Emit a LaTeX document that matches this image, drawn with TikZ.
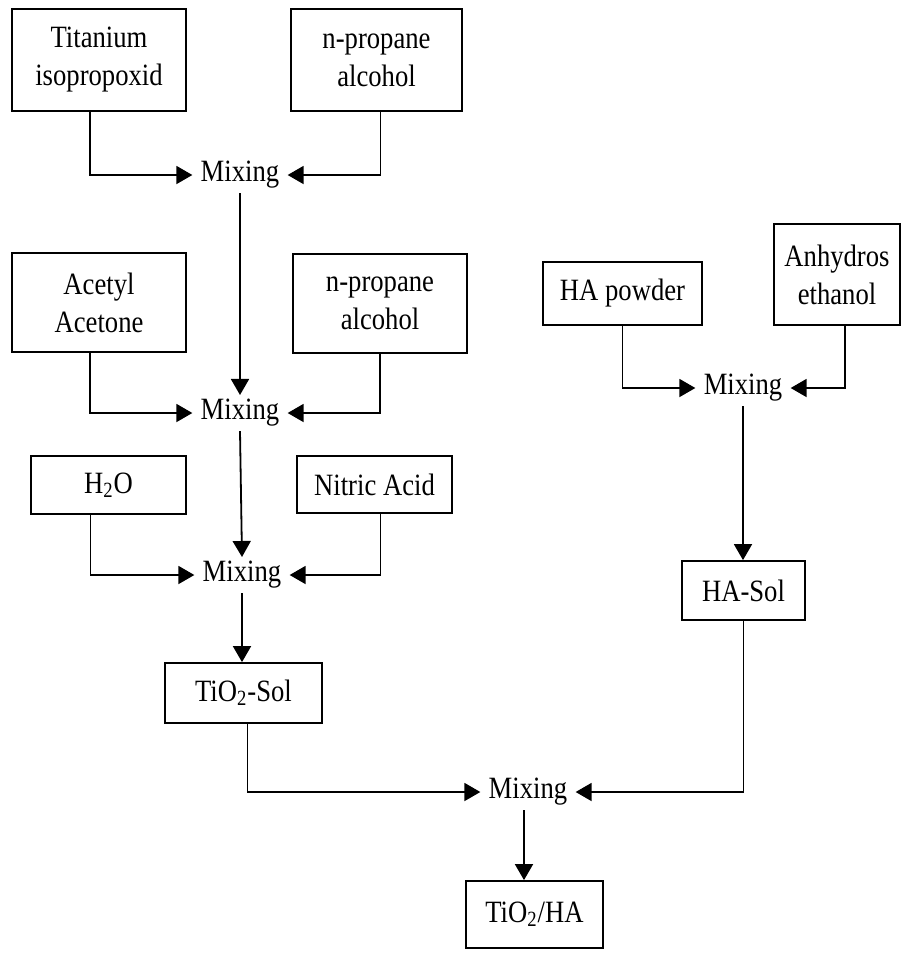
\documentclass[tikz,border=0pt]{standalone}
\usepackage{fontspec}
\setmainfont[FakeStretch=0.86]{Liberation Serif}
\usetikzlibrary{arrows.meta}

\begin{document}
\begin{tikzpicture}[x=0.5pt,y=-0.5pt,
		box/.style={draw=black,line width=0.9pt,align=center,inner sep=0pt,font=\fontsize{15.5}{19}\selectfont},
		mix/.style={inner xsep=4pt,inner ysep=2pt,font=\fontsize{15.5}{19}\selectfont},
		feed/.style={draw=black,line width=0.9pt,-{Triangle[length=8pt,width=9pt]}}]
		\useasboundingbox (0,0) rectangle (902,954);
		% titanium branch
		\node [box,minimum width=87pt,minimum height=51pt] (tip) at (99,60) {Titanium\\isopropoxid};
		\node [box,minimum width=85.5pt,minimum height=51pt] (npa1) at (376.5,60) {n-propane\\alcohol};
		\node [mix] (mix1) at (240,175) {Mixing};
		\node [box,minimum width=87pt,minimum height=49.5pt] (acac) at (99,302.5) {Acetyl\\Acetone};
		\node [box,minimum width=87pt,minimum height=49.5pt] (npa2) at (380,303.5) {n-propane\\alcohol};
		\node [mix] (mix2) at (240,413) {Mixing};
		\node [box,minimum width=77.5pt,minimum height=29pt] (water) at (108.5,485) {H\textsubscript{2}O};
		\node [box,minimum width=77.5pt,minimum height=28.5pt] (nitric) at (374.5,484.5) {Nitric Acid};
		\node [mix] (mix3) at (242,575) {Mixing};
		\node [box,minimum width=78.5pt,minimum height=30pt] (tisol) at (243.5,693) {TiO\textsubscript{2}-Sol};
		% HA branch
		\node [box,minimum width=79.5pt,minimum height=31.5pt] (hapow) at (622.5,293.5) {HA powder};
		\node [box,minimum width=63pt,minimum height=50.5pt] (ethanol) at (837,274.5) {Anhydros\\ethanol};
		\node [mix] (mix4) at (743,388) {Mixing};
		\node [box,minimum width=61.5pt,minimum height=29.5pt] (hasol) at (743.5,590.5) {HA-Sol};
		% final
		\node [mix] (mix5) at (528,792) {Mixing};
		\node [box,minimum width=68.5pt,minimum height=33.5pt] (tiha) at (534.5,914.5) {TiO\textsubscript{2}/HA};

		\draw [feed] ([xshift=-4.5pt]tip.south) |- (mix1.west);
		\draw [feed] ([xshift=2pt]npa1.south) |- (mix1.east);
		\draw [feed] (mix1.south) -- (mix2.north);
		\draw [feed] ([xshift=-4.5pt]acac.south) |- (mix2.west);
		\draw [feed] (npa2.south) |- (mix2.east);
		\draw [feed] (mix2.south) -- (mix3.north);
		\draw [feed] ([xshift=-9pt]water.south) |- (mix3.west);
		\draw [feed] ([xshift=3pt]nitric.south) |- (mix3.east);
		\draw [feed] (mix3.south) -- (tisol.north -| mix3.south);
		\draw [feed] (hapow.south) |- (mix4.west);
		\draw [feed] ([xshift=4pt]ethanol.south) |- (mix4.east);
		\draw [feed] (mix4.south) -- (hasol.north -| mix4.south);
		\draw [feed] ([xshift=2pt]tisol.south) |- (mix5.west);
		\draw [feed] (hasol.south) |- (mix5.east);
		\draw [feed] ([xshift=-2pt]mix5.south) -- ([xshift=-2pt]mix5.south |- tiha.north);
\end{tikzpicture}
\end{document}
